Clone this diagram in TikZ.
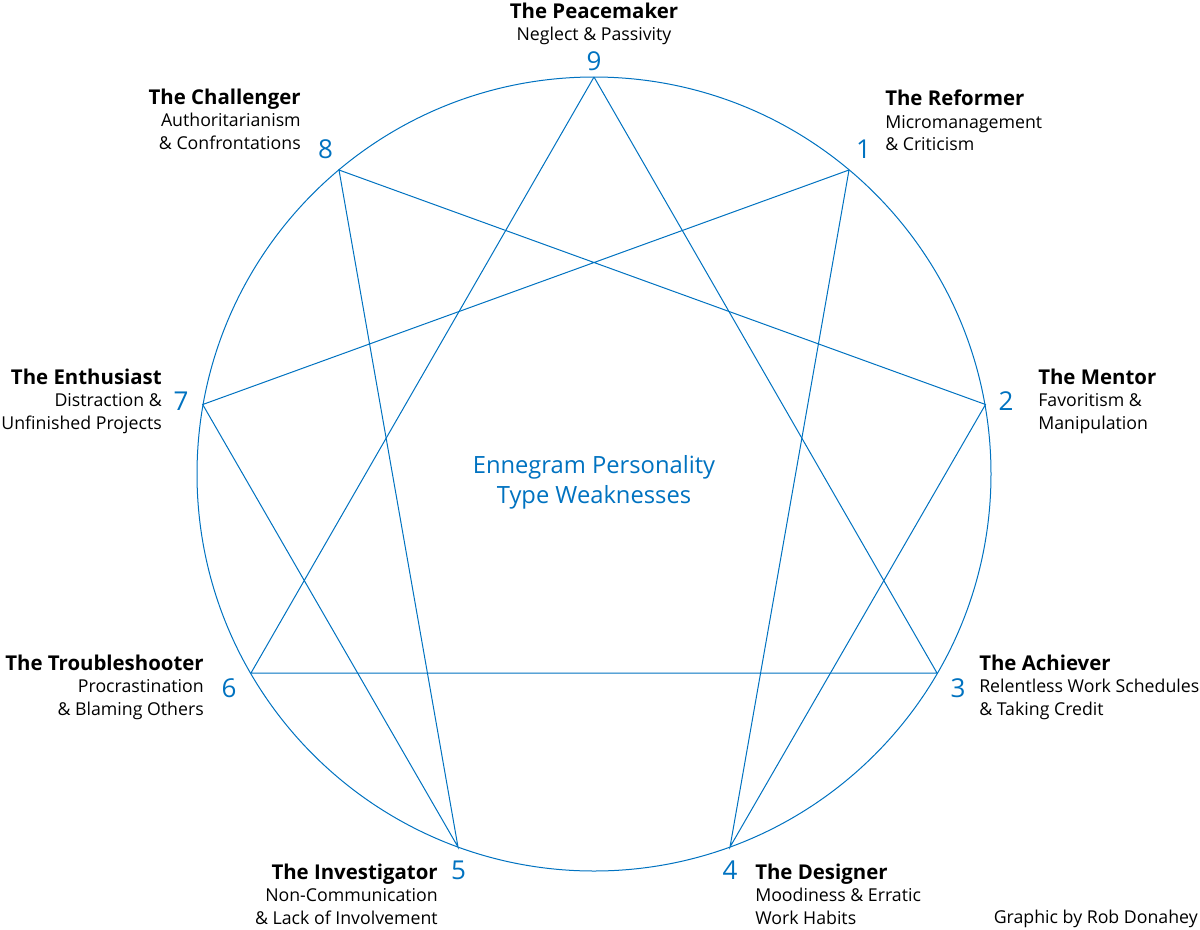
\documentclass[tikz,border=0pt]{standalone}
\usepackage{fontspec}
\setmainfont{Open Sans}
\usepackage{tikz}
\definecolor{ennblue}{HTML}{0072C0}
\newcommand{\typename}[1]{\textbf{\fontsize{15.3}{17}\selectfont #1}}

\begin{document}
\begin{tikzpicture}[x=0.75pt,y=-0.75pt,
  line/.style={draw=ennblue,line width=0.75pt},
  num/.style={text=ennblue,font=\fontsize{19.5}{22}\selectfont,inner sep=0pt},
  typeleft/.style={align=right,anchor=north east,inner sep=0pt,font=\fontsize{13.3}{17}\selectfont},
  typeright/.style={align=left,anchor=north west,inner sep=0pt,font=\fontsize{13.3}{17}\selectfont},
  typemid/.style={align=center,anchor=north,inner sep=0pt,font=\fontsize{13.3}{17}\selectfont}]
\useasboundingbox (0,0) rectangle (1200,929);
\coordinate (centre) at (594,474);
\coordinate (p9) at (594,77);
\coordinate (p1) at (849,170);
\coordinate (p2) at (985.5,404.5);
\coordinate (p3) at (937,673);
\coordinate (p4) at (730,847);
\coordinate (p5) at (458,847);
\coordinate (p6) at (251,673);
\coordinate (p7) at (202.7,404.5);
\coordinate (p8) at (339,170);
\draw[line] (centre) circle [radius=397];
\draw[line] (p1) -- (p4) -- (p2) -- (p8) -- (p5) -- (p7) -- (p1);
\draw[line] (p9) -- (p3) -- (p6) -- (p9);
\node[num] (n9) at (594,61) {9};
\node[num] (n1) at (863.5,149) {1};
\node[num] (n2) at (1006,401) {2};
\node[num] (n3) at (958,688) {3};
\node[num] (n4) at (730,870) {4};
\node[num] (n5) at (458.5,870) {5};
\node[num] (n6) at (229,688) {6};
\node[num] (n7) at (181,401) {7};
\node[num] (n8) at (325.5,149) {8};
\node[typemid] (t9) at (594,2.5) {\typename{The Peacemaker}\\Neglect \& Passivity};
\node[typeright] (t1) at (885,89.5) {\typename{The Reformer}\\Micromanagement\\\& Criticism};
\node[typeright] (t2) at (1038,368.5) {\typename{The Mentor}\\Favoritism \&\\Manipulation};
\node[typeright] (t3) at (979,654.5) {\typename{The Achiever}\\Relentless Work Schedules\\\& Taking Credit};
\node[typeright] (t4) at (755,863.5) {\typename{The Designer}\\Moodiness \& Erratic\\Work Habits};
\node[typeleft] (t5) at (438,863.5) {\typename{The Investigator}\\Non-Communication\\\& Lack of Involvement};
\node[typeleft] (t6) at (204,654.5) {\typename{The Troubleshooter}\\Procrastination\\\& Blaming Others};
\node[typeleft] (t7) at (162,368.5) {\typename{The Enthusiast}\\Distraction \&\\Unfinished Projects};
\node[typeleft] (t8) at (301,88.5) {\typename{The Challenger}\\Authoritarianism\\\& Confrontations};
\node[text=ennblue,align=center,font=\fontsize{17.8}{22.3}\selectfont,inner sep=0pt] (title) at (594,482.5) {Ennegram Personality\\Type Weaknesses};
\node[inner sep=0pt,anchor=east,font=\fontsize{13.3}{17}\selectfont] (credit) at (1198,919) {Graphic by Rob Donahey};
\end{tikzpicture}
\end{document}
